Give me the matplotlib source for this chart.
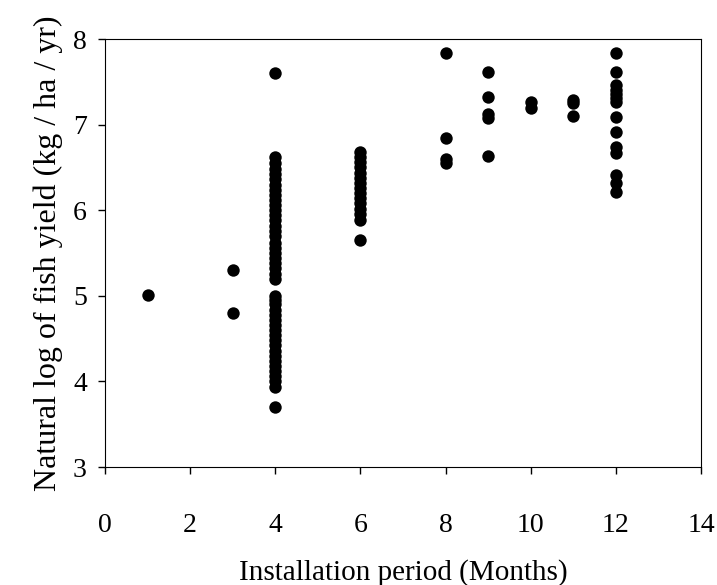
import numpy as np
import matplotlib.pyplot as plt

plt.rcParams['font.family'] = ['Liberation Serif', 'DejaVu Serif']

# installation period (months) and ln fish yield
months_1 = [1]
yield_1 = [5.01]

months_3 = [3, 3]
yield_3 = [5.30, 4.80]

yield_4 = [7.60, 6.62, 6.55, 6.48, 6.42, 6.36, 6.30, 6.24, 6.18, 6.12, 6.06,
           6.00, 5.94, 5.88, 5.82, 5.76, 5.70, 5.62, 5.56, 5.50, 5.44, 5.38,
           5.32, 5.26, 5.20, 5.00, 4.95, 4.90, 4.84, 4.78, 4.72, 4.66, 4.60,
           4.54, 4.48, 4.42, 4.36, 4.30, 4.24, 4.18, 4.12, 4.06, 4.00, 3.94,
           3.70]
months_4 = [4] * len(yield_4)

yield_6 = [6.68, 6.62, 6.56, 6.50, 6.44, 6.38, 6.32, 6.26, 6.20, 6.14, 6.08,
           6.02, 5.96, 5.88, 5.65]
months_6 = [6] * len(yield_6)

months_8 = [8, 8, 8, 8]
yield_8 = [7.84, 6.84, 6.60, 6.55]

months_9 = [9, 9, 9, 9, 9]
yield_9 = [7.61, 7.32, 7.12, 7.08, 6.63]

months_10 = [10, 10]
yield_10 = [7.26, 7.19]

months_11 = [11, 11, 11]
yield_11 = [7.29, 7.25, 7.10]

yield_12 = [7.84, 7.61, 7.46, 7.41, 7.36, 7.31, 7.26, 7.09, 6.91, 6.74,
            6.67, 6.41, 6.32, 6.21]
months_12 = [12] * len(yield_12)

x = months_1 + months_3 + months_4 + months_6 + months_8 + months_9 + months_10 + months_11 + months_12
y = yield_1 + yield_3 + yield_4 + yield_6 + yield_8 + yield_9 + yield_10 + yield_11 + yield_12

fig = plt.figure(figsize=(7.17, 5.85), dpi=100)
ax = fig.add_axes([0.1464, 0.2017, 0.8313, 0.7316])

ax.scatter(x, y, s=80, color='black', zorder=3, linewidths=0)

ax.set_xlim(0, 14)
ax.set_ylim(3, 8)
ax.set_xticks(np.arange(0, 15, 2))
ax.set_yticks(np.arange(3, 9, 1))
ax.tick_params(direction='out', length=5, width=1, labelsize=20)
ax.tick_params(axis='x', pad=28)
ax.tick_params(axis='y', pad=8)

ax.set_xlabel('Installation period (Months)', fontsize=21, labelpad=15)
ax.set_ylabel('Natural log of fish yield (kg / ha / yr)', fontsize=23, labelpad=7)

plt.savefig('out.png', dpi=100)
